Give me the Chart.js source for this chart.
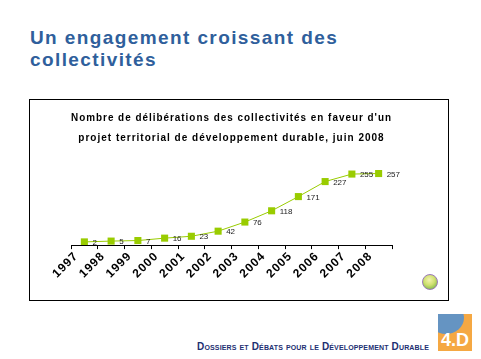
<!DOCTYPE html>
<html lang="fr">
<head>
  <meta charset="UTF-8">
  <title>Un engagement croissant des collectivités</title>
  <script src="https://cdn.jsdelivr.net/npm/chart.js"></script>
  <style>
    body {
      margin: 0;
      width: 481px;
      height: 359px;
      background: #fff;
      position: relative;
      overflow: hidden;
      font-family: "Liberation Sans", Arial, sans-serif;
    }
    .titre {
      position: absolute;
      left: 30px;
      top: 27px;
      font-size: 19px;
      font-weight: bold;
      line-height: 22px;
      letter-spacing: 1.4px;
      color: #2f5f9c;
    }
    .cadre {
      position: absolute;
      left: 29px;
      top: 99px;
      width: 418px;
      height: 200px;
      border: 1px solid #000;
    }
    .cadre canvas {
      display: block;
    }
    .logo-rond {
      position: absolute;
      left: 422px;
      top: 274px;
      width: 14px;
      height: 14px;
      border-radius: 50%;
      border: 1.5px solid #9a78b8;
      background: radial-gradient(circle at 45% 35%, #f4f3b0 0%, #cfe070 45%, #7cb44c 85%);
    }
    .pied {
      position: absolute;
      right: 52px;
      top: 341px;
      font-size: 10px;
      font-weight: bold;
      font-variant: small-caps;
      letter-spacing: 0.15px;
      color: #1d2f72;
    }
    .logo-4d {
      position: absolute;
      left: 438px;
      top: 314px;
      width: 34px;
      height: 37px;
      background: #f5a843;
      overflow: hidden;
    }
    .logo-4d .carte {
      position: absolute;
      left: -10px;
      top: -12px;
      width: 36px;
      height: 32px;
      border-radius: 50%;
      background: #6594c2;
    }
    .logo-4d span {
      position: absolute;
      left: 3px;
      bottom: 0px;
      font-size: 18px;
      font-weight: bold;
      color: #fff;
    }
  </style>
</head>
<body>
  <div class="titre">Un engagement croissant des<br>collectivités</div>

  <div class="cadre">
    <canvas id="graphique" width="418" height="200"></canvas>
  </div>
  <div class="logo-rond"></div>

  <div class="pied">Dossiers et Débats pour le Développement Durable</div>
  <div class="logo-4d"><div class="carte"></div><span>4.D</span></div>

  <script>
    // Données
    const annees = ["1997", "1998", "1999", "2000", "2001", "2002", "2003", "2004", "2005", "2006", "2007", "2008"];
    const deliberations = [2, 5, 7, 16, 23, 42, 76, 118, 171, 227, 255, 257];
    const titreGraphique = [
      "Nombre de délibérations des collectivités en faveur d'un",
      "projet territorial de développement durable, juin 2008"
    ];

    // Espacement des lettres (titre et années), comme dans l'original
    const espacement = {
      id: "espacement",
      beforeLayout(chart) { chart.ctx.letterSpacing = "1px"; },
      beforeDraw(chart) { chart.ctx.letterSpacing = "1px"; }
    };

    // Étiquettes de valeur à droite de chaque point
    const etiquettes = {
      id: "etiquettes",
      afterDatasetsDraw(chart) {
        const ctx = chart.ctx;
        const meta = chart.getDatasetMeta(0);
        ctx.save();
        ctx.letterSpacing = "0px";
        ctx.font = "8px 'Liberation Sans', Arial, sans-serif";
        ctx.fillStyle = "#222";
        ctx.textAlign = "left";
        ctx.textBaseline = "middle";
        meta.data.forEach((pt, i) => {
          ctx.fillText(String(deliberations[i]), pt.x + 8, pt.y + 1);
        });
        ctx.restore();
      }
    };

    new Chart(document.getElementById("graphique"), {
      type: "line",
      data: {
        labels: annees,
        datasets: [{
          data: deliberations,
          borderColor: "#99cc00",
          borderWidth: 1,
          backgroundColor: "#99cc00",
          pointStyle: "rect",
          pointRadius: 5,
          pointBorderWidth: 0,
          pointBackgroundColor: "#99cc00",
          tension: 0
        }]
      },
      options: {
        responsive: false,
        animation: false,
        layout: {
          padding: { left: 41, right: 56, top: 8, bottom: 19 }
        },
        plugins: {
          legend: { display: false },
          tooltip: { enabled: false },
          title: {
            display: true,
            text: titreGraphique,
            color: "#000",
            font: { family: "'Liberation Sans', Arial, sans-serif", size: 10, weight: "bold", lineHeight: 2 },
            padding: { top: 0, bottom: 14 }
          }
        },
        scales: {
          x: {
            offset: true,
            grid: {
              offset: true,
              drawOnChartArea: false,
              drawTicks: true,
              tickLength: 4,
              color: "#000"
            },
            border: { display: true, color: "#000", width: 1 },
            ticks: {
              color: "#000",
              maxRotation: 45,
              minRotation: 45,
              labelOffset: -8,
              padding: 0,
              font: { family: "'Liberation Sans', Arial, sans-serif", size: 12, weight: "bold" }
            }
          },
          y: {
            display: false,
            min: -10,
            max: 300
          }
        }
      },
      plugins: [espacement, etiquettes]
    });
  </script>
</body>
</html>
